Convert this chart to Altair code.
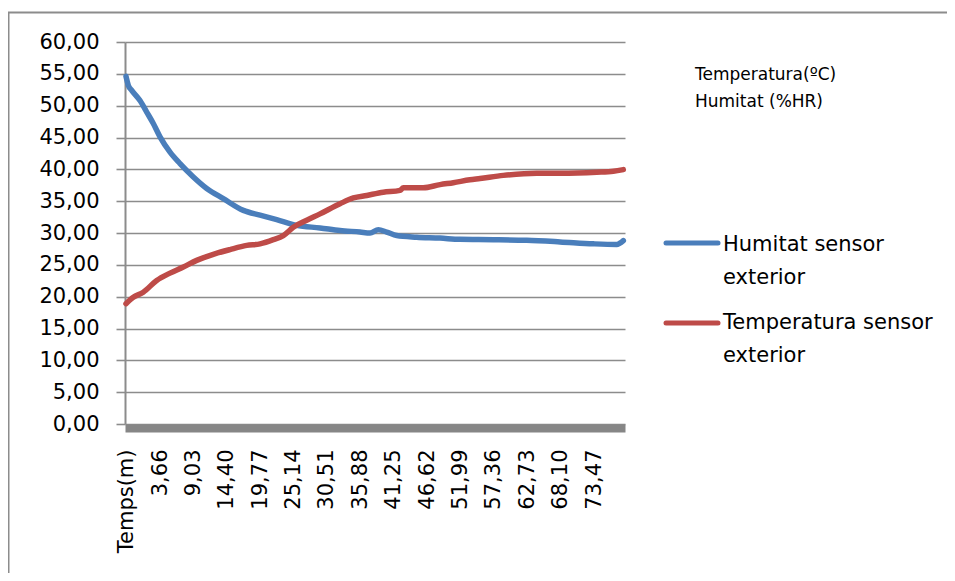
import json
import altair as alt
import pandas as pd

# ---- data (time in minutes, values) ----
hum_t = [-1.81, -1.44, -0.89, 0.44, 1.52, 2.58, 3.66, 5.27, 6.88, 9.02, 11.17, 13.84,
         17.06, 19.75, 22.43, 25.65, 29.40, 32.61, 35.83, 37.44, 38.77, 40.12, 41.73,
         44.95, 48.70, 51.90, 57.27, 62.64, 68.00, 73.36, 77.12, 78.18]
hum_v = [54.6, 53.2, 52.4, 50.8, 49.0, 47.2, 45.1, 42.7, 40.9, 38.8, 37.0, 35.4,
         33.55, 32.8, 32.1, 31.2, 30.8, 30.4, 30.15, 30.0, 30.5, 30.15, 29.6,
         29.35, 29.2, 29.0, 28.95, 28.85, 28.6, 28.3, 28.2, 28.8]

temp_t = [-1.81, -0.63, 0.97, 3.13, 5.27, 7.41, 9.56, 12.23, 14.92, 17.60, 19.75,
          21.88, 23.49, 25.10, 27.26, 29.40, 32.61, 34.75, 36.91, 39.58, 42.26, 42.80,
          46.00, 48.70, 50.84, 53.50, 55.13, 58.88, 64.25, 68.00, 73.90, 76.57, 78.18]
temp_v = [18.9, 19.9, 20.7, 22.55, 23.7, 24.65, 25.7, 26.65, 27.4, 28.05, 28.3,
          28.95, 29.6, 30.9, 32.0, 33.0, 34.6, 35.5, 35.9, 36.4, 36.7, 37.1,
          37.1, 37.6, 37.9, 38.35, 38.55, 39.05, 39.4, 39.4, 39.55, 39.7, 39.95]

series_names = ["Humitat sensor exterior", "Temperatura sensor exterior"]
legend_texts = ["Humitat sensor\nexterior", "Temperatura sensor\nexterior"]
series_colors = ["#4a7ebb", "#be4b48"]

x_tick_values = [-1.71, 3.66, 9.03, 14.40, 19.77, 25.14, 30.51, 35.88, 41.25,
                 46.62, 51.99, 57.36, 62.73, 68.10, 73.47]
x_tick_labels = ["Temps(m)", "3,66", "9,03", "14,40", "19,77", "25,14", "30,51",
                 "35,88", "41,25", "46,62", "51,99", "57,36", "62,73", "68,10", "73,47"]
y_tick_values = [0, 5, 10, 15, 20, 25, 30, 35, 40, 45, 50, 55, 60]
note_text = "Temperatura(ºC)\nHumitat (%HR)"

df = pd.concat([
    pd.DataFrame({"t": hum_t, "v": hum_v, "serie": series_names[0]}),
    pd.DataFrame({"t": temp_t, "v": temp_v, "serie": series_names[1]}),
], ignore_index=True)

W, H = 500, 382
FONT = "DejaVu Sans"
GRAY = "#8c8c8c"

color_scale = alt.Scale(domain=series_names, range=series_colors)
x_scale = alt.Scale(domain=[-1.97, 78.45], nice=False, zero=False)
y_scale = alt.Scale(domain=[0, 60], nice=False)

x_label_expr = (f"{json.dumps(x_tick_labels)}"
                f"[indexof({json.dumps(x_tick_values)}, datum.value)]")

x_axis = alt.Axis(values=x_tick_values, labelExpr=x_label_expr, labelAngle=-90,
                  labelAlign="right", labelBaseline="middle", ticks=False, tickSize=0,
                  grid=False, domainColor="#868686", domainWidth=8, offset=4,
                  labelPadding=21, labelFont=FONT, labelFontSize=21, labelColor="black",
                  labelOverlap=False, labelFlush=False, title=None)
y_axis = alt.Axis(values=y_tick_values,
                  labelExpr="replace(format(datum.value, '.2f'), '.', ',')",
                  grid=True, gridColor=GRAY, gridWidth=1.6, domainColor=GRAY,
                  domainWidth=2, tickColor=GRAY, tickWidth=1.6, tickSize=9,
                  labelPadding=17, labelFont=FONT, labelFontSize=21, labelColor="black",
                  labelOverlap=False, title=None)

border = alt.Chart(pd.DataFrame({"a": [0]})).mark_rect(
    fillOpacity=0, stroke=GRAY, strokeWidth=2
).encode(x=alt.value(-116.5), x2=alt.value(1000), y=alt.value(-29.5), y2=alt.value(700))

lines = alt.Chart(df).mark_line(strokeWidth=5.5, strokeJoin="round", strokeCap="round",
                                interpolate="monotone").encode(
    x=alt.X("t:Q", scale=x_scale, axis=x_axis),
    y=alt.Y("v:Q", scale=y_scale, axis=y_axis),
    color=alt.Color("serie:N", scale=color_scale, legend=None),
)

note = alt.Chart(pd.DataFrame({"txt": [note_text]})).mark_text(
    align="left", baseline="alphabetic", font=FONT, fontSize=17, color="black",
    lineBreak="\n", lineHeight=27
).encode(x=alt.value(570), y=alt.value(38), text="txt:N")

layers = [border, lines, note]
legend_line_y = [201, 281]
legend_text_y = [209, 287]
for name, label, ly, ty in zip(series_names, legend_texts, legend_line_y, legend_text_y):
    d = pd.DataFrame({"serie": [name], "label": [label]})
    layers.append(alt.Chart(d).mark_rule(strokeWidth=5, strokeCap="round").encode(
        x=alt.value(541), x2=alt.value(593), y=alt.value(ly),
        color=alt.Color("serie:N", scale=color_scale, legend=None)))
    layers.append(alt.Chart(d).mark_text(
        align="left", baseline="alphabetic", font=FONT, fontSize=21, color="black",
        lineBreak="\n", lineHeight=33
    ).encode(x=alt.value(598), y=alt.value(ty), text="label:N"))

chart = alt.layer(*layers).properties(
    width=W, height=H,
    autosize=alt.AutoSizeParams(type="none"),
    padding={"left": 117, "top": 34, "right": 322, "bottom": 149},
    background="white",
).configure_view(stroke=None)

chart.save("out.html", embed_options={"renderer": "svg", "actions": False})
